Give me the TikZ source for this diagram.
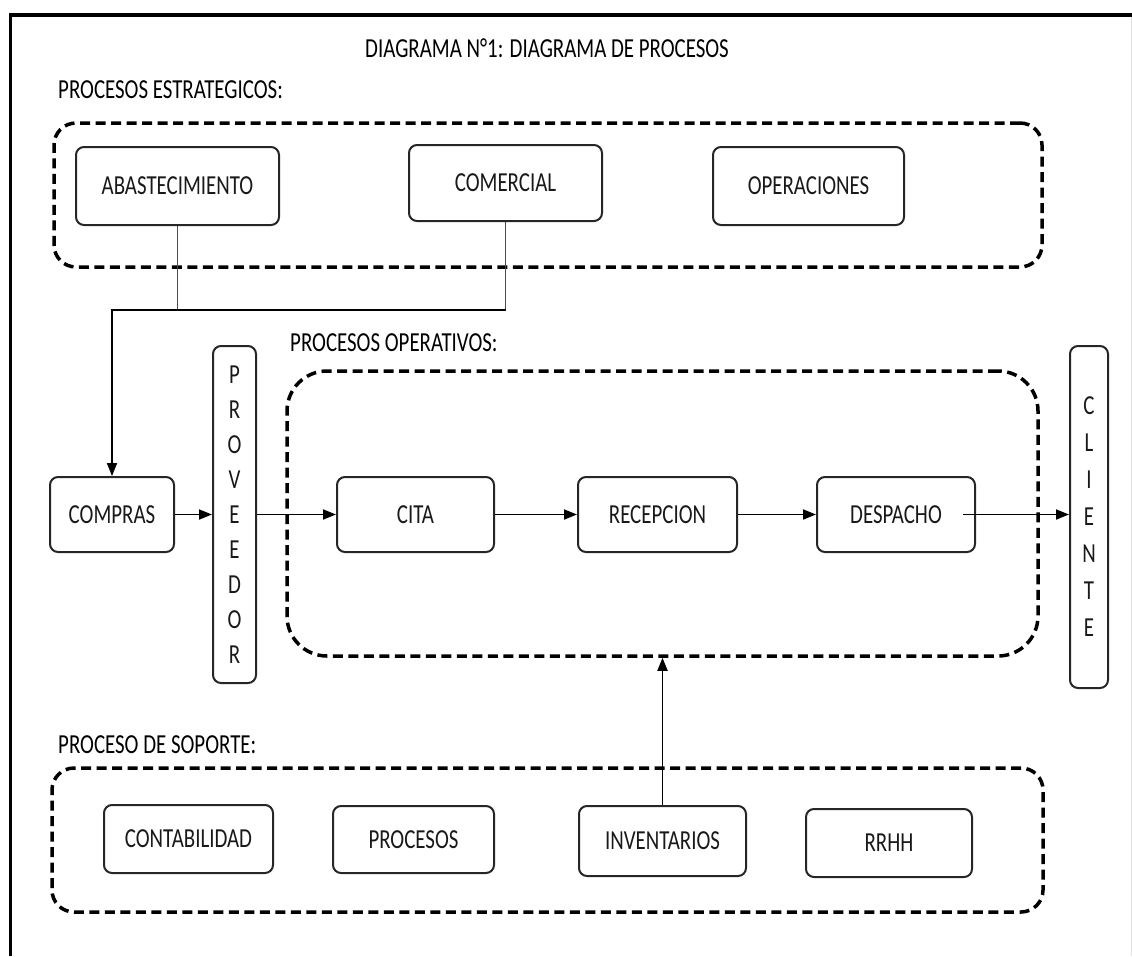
\documentclass[tikz,border=0pt]{standalone}
\usepackage{fontspec}
\setmainfont[FakeStretch=0.76]{Carlito}
\usetikzlibrary{arrows.meta}

\begin{document}
\begin{tikzpicture}[x=1pt,y=-1pt,
  txt/.style={font=\fontsize{27.5}{33}\selectfont},
  proc/.style={txt, draw=black!85, line width=2pt, rounded corners=8pt,
    inner sep=0pt, text=black!90},
  group/.style={draw=black, line width=3.5pt, dash pattern=on 10pt off 5.5pt,
    rounded corners=22pt, inner sep=0pt},
  flow/.style={line width=1.8pt, -{Triangle[length=13pt,width=10pt]}},
  link/.style={line width=1.8pt, draw=black!70},
  heading/.style={txt, anchor=west, inner sep=0pt}
]
\useasboundingbox (0,0) rectangle (1132,956);

% page frame
\draw[line width=4pt] (9,15) -- (1132,15);
\draw[line width=3pt] (10,13) -- (10,956);
\draw[line width=1pt, black!12] (1131,17) -- (1131,956);

% titles
\node[txt, inner sep=0pt] (title) at (547,48) {DIAGRAMA N°1: DIAGRAMA DE PROCESOS};
\node[heading] (hstrat) at (58,90) {PROCESOS ESTRATEGICOS:};
\node[heading] (hoper) at (290,343) {PROCESOS OPERATIVOS:};
\node[heading] (hsop) at (58,745) {PROCESO DE SOPORTE:};

% process groups
\node[group, minimum width=988pt, minimum height=144pt] (strat) at (548,195) {};
\node[group, rounded corners=40pt, minimum width=751pt, minimum height=285pt] (oper) at (662.5,513.5) {};
\node[group, minimum width=991pt, minimum height=144pt] (sop) at (547.5,840) {};

% strategic processes
\node[proc, minimum width=203pt, minimum height=78pt] (abast) at (177.5,186) {ABASTECIMIENTO};
\node[proc, minimum width=193pt, minimum height=76pt] (comercial) at (505.5,183) {COMERCIAL};
\node[proc, minimum width=191pt, minimum height=78pt] (operac) at (808.5,186) {OPERACIONES};

% operative chain
\node[proc, minimum width=124pt, minimum height=75pt] (compras) at (112,514.5) {COMPRAS};
\node[proc, align=center, font=\fontsize{27.5}{35}\selectfont,
  minimum width=43pt, minimum height=337pt] (prov) at (234.5,514.5)
  {P\\R\\O\\V\\E\\E\\D\\O\\R};
\node[proc, minimum width=157pt, minimum height=75pt] (cita) at (415.5,514.5) {CITA};
\node[proc, minimum width=159pt, minimum height=75pt] (recep) at (657.5,514.5) {RECEPCION};
\node[proc, minimum width=158pt, minimum height=75pt] (desp) at (896,514.5) {DESPACHO};
\node[proc, align=center, font=\fontsize{27.5}{37}\selectfont,
  minimum width=38pt, minimum height=342pt] (cliente) at (1089,517)
  {C\\L\\I\\E\\N\\T\\E};

% support processes
\node[proc, minimum width=169pt, minimum height=68pt] (conta) at (188.5,839) {CONTABILIDAD};
\node[proc, minimum width=161pt, minimum height=67pt] (procs) at (413.5,839.5) {PROCESOS};
\node[proc, minimum width=167pt, minimum height=70pt] (invent) at (662.5,841) {INVENTARIOS};
\node[proc, minimum width=166pt, minimum height=68pt] (rrhh) at (889,843) {RRHH};

% connectors
\coordinate (bus) at (112,310);
\draw[link] (abast.south) -- (abast.south |- bus);
\draw[link] (comercial.south) -- (comercial.south |- bus);
\draw[flow] (comercial.south |- bus) -- (bus) -- (compras.north);
\draw[flow] (compras) -- (prov);
\draw[flow] (prov) -- (cita);
\draw[flow] (cita) -- (recep);
\draw[flow] (recep) -- (desp);
\draw[flow] ([xshift=-13pt]desp.east) -- (cliente.west |- desp.east);
\draw[flow] (invent.north) -- (invent.north |- oper.south);
\end{tikzpicture}
\end{document}
